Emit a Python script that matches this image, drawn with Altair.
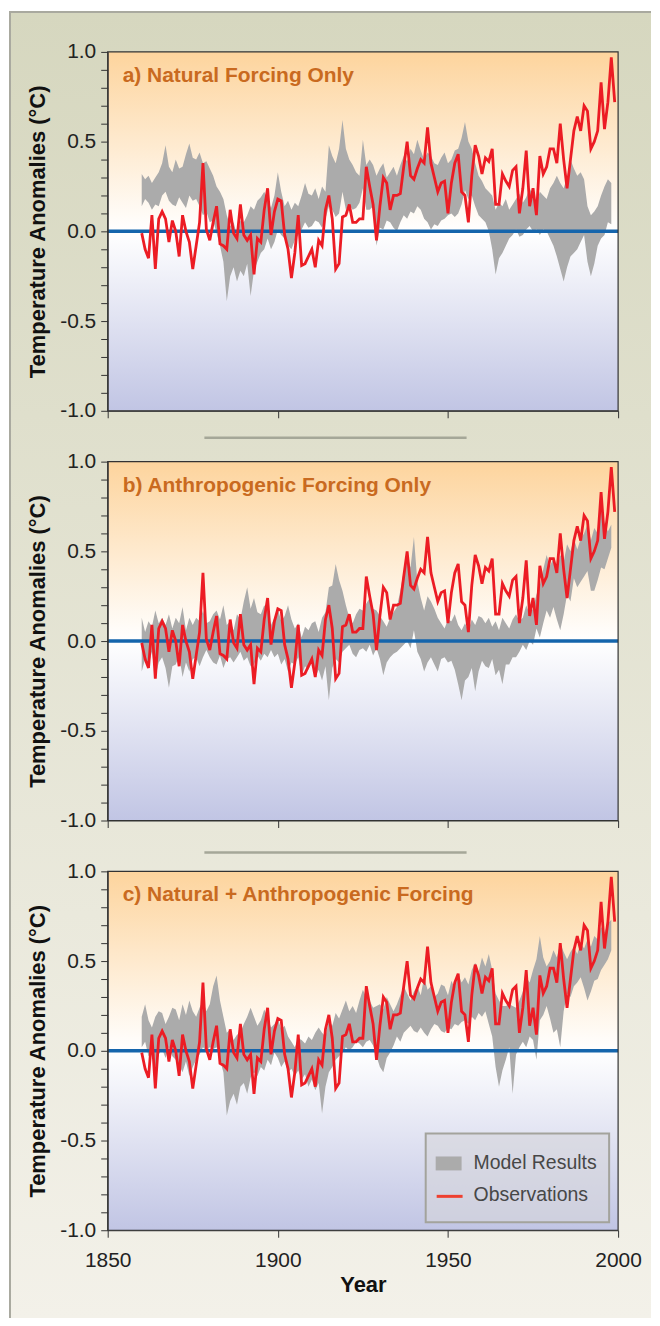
import altair as alt
import pandas as pd

# ---------------- data ----------------
years_obs = list(range(1860, 2000))
years_model = list(range(1860, 1999))

obs = [
    -0.01, -0.10, -0.15, 0.09, -0.21, 0.07, 0.11, 0.07, -0.06, 0.06,
    0.00, -0.14, 0.09, 0.00, -0.06, -0.21, -0.08, 0.05, 0.38, 0.01,
    -0.05, 0.05, 0.14, -0.07, -0.08, -0.10, 0.12, -0.01, -0.04, 0.15,
    -0.02, -0.05, -0.02, -0.24, -0.04, -0.06, 0.12, 0.24, -0.02, 0.11,
    0.18, 0.17, -0.02, -0.10, -0.26, -0.12, 0.09, -0.19, -0.18, -0.14,
    -0.10, -0.20, -0.05, -0.08, 0.12, 0.20, 0.07, -0.21, -0.18, 0.08,
    0.09, 0.15, 0.05, 0.05, 0.07, 0.07, 0.36, 0.25, 0.15, -0.05,
    0.14, 0.30, 0.27, 0.12, 0.20, 0.20, 0.21, 0.36, 0.50, 0.31,
    0.29, 0.35, 0.40, 0.38, 0.58, 0.38, 0.30, 0.22, 0.27, 0.28,
    0.10, 0.27, 0.38, 0.43, 0.22, 0.20, 0.05, 0.31, 0.48, 0.42,
    0.32, 0.41, 0.39, 0.46, 0.15, 0.15, 0.32, 0.28, 0.25, 0.34,
    0.36, 0.10, 0.24, 0.45, 0.14, 0.24, 0.09, 0.42, 0.32, 0.36,
    0.46, 0.46, 0.38, 0.60, 0.40, 0.24, 0.40, 0.56, 0.64, 0.56,
    0.70, 0.67, 0.46, 0.50, 0.56, 0.83, 0.57, 0.72, 0.97, 0.72,
]

nat_upper = [
    0.32, 0.29, 0.31, 0.27, 0.30, 0.33, 0.38, 0.48, 0.36, 0.33,
    0.40, 0.35, 0.36, 0.43, 0.49, 0.41, 0.40, 0.44, 0.38, 0.39,
    0.35, 0.31, 0.25, 0.22, 0.18, 0.09, 0.03, 0.05, -0.02, 0.06,
    0.05, 0.09, 0.14, 0.12, 0.17, 0.19, 0.22, 0.18, 0.13, 0.20,
    0.33, 0.22, 0.14, 0.17, 0.12, 0.16, 0.14, 0.20, 0.27, 0.21,
    0.20, 0.24, 0.18, 0.25, 0.22, 0.48, 0.42, 0.38, 0.46, 0.62,
    0.46, 0.40, 0.37, 0.33, 0.31, 0.51, 0.37, 0.40, 0.37, 0.31,
    0.35, 0.38, 0.30, 0.33, 0.36, 0.31, 0.37, 0.42, 0.39, 0.46,
    0.43, 0.51, 0.45, 0.40, 0.44, 0.42, 0.38, 0.37, 0.41, 0.44,
    0.38, 0.40, 0.45, 0.46, 0.52, 0.61, 0.50, 0.46, 0.38, 0.31,
    0.28, 0.24, 0.22, 0.20, 0.12, 0.16, 0.14, 0.18, 0.12, 0.15,
    0.18, 0.21, 0.16, 0.19, 0.24, 0.20, 0.16, 0.22, 0.20, 0.18,
    0.24, 0.27, 0.31, 0.27, 0.24, 0.30, 0.40, 0.35, 0.31, 0.33,
    0.29, 0.14, 0.09, 0.11, 0.14, 0.20, 0.25, 0.29, 0.27,
]
nat_lower = [
    0.14, 0.18, 0.16, 0.12, 0.15, 0.14, 0.20, 0.22, 0.17, 0.15,
    0.14, 0.19, 0.16, 0.13, 0.20, 0.17, 0.18, 0.14, 0.09, 0.11,
    0.05, 0.06, -0.01, -0.08, -0.17, -0.39, -0.25, -0.20, -0.28, -0.22,
    -0.25, -0.18, -0.36, -0.22, -0.17, -0.12, -0.10, -0.04, -0.10, -0.06,
    0.01, -0.02, -0.04, -0.08, -0.10, -0.05, -0.02, 0.01, 0.05, 0.02,
    0.03, 0.06, 0.05, 0.02, 0.07, 0.14, 0.12, 0.08, 0.10, 0.22,
    0.12, 0.15, 0.12, 0.13, 0.16, 0.24, 0.12, 0.12, 0.14, -0.08,
    0.02, 0.01, 0.06, 0.05, 0.02, 0.00, 0.05, 0.09, 0.07, 0.11,
    0.10, 0.14, 0.12, 0.07, 0.05, 0.01, 0.04, 0.03, 0.06, 0.07,
    0.09, 0.10, 0.08, 0.10, 0.15, 0.23, 0.18, 0.20, 0.14, 0.09,
    0.07, 0.05, 0.00, -0.10, -0.24, -0.15, -0.12, -0.08, -0.04, -0.02,
    0.01, -0.03, -0.02, 0.01, 0.03, 0.00, 0.01, -0.02, 0.01, 0.00,
    -0.04, -0.08, -0.14, -0.21, -0.28, -0.20, -0.14, -0.12, -0.10, -0.06,
    -0.02, -0.17, -0.25, -0.18, -0.08, -0.04, -0.02, 0.05, 0.04,
]

ant_upper = [
    0.13, 0.05, 0.11, 0.08, 0.17, 0.10, 0.13, 0.09, 0.15, 0.07,
    0.13, 0.10, 0.19, 0.06, 0.13, 0.09, 0.13, 0.11, 0.17, 0.10,
    0.11, 0.15, 0.17, 0.12, 0.20, 0.09, 0.11, 0.06, 0.15, 0.12,
    0.22, 0.30, 0.18, 0.24, 0.16, 0.15, 0.20, 0.17, 0.09, 0.13,
    0.18, 0.11, 0.14, 0.20, 0.12, 0.07, 0.10, 0.02, 0.08, 0.06,
    0.10, 0.11, 0.05, 0.13, 0.16, 0.30, 0.31, 0.43, 0.34, 0.28,
    0.20, 0.13, 0.10, 0.15, 0.18, 0.17, 0.21, 0.24, 0.18, 0.17,
    0.14, 0.11, 0.08, 0.13, 0.16, 0.19, 0.28, 0.39, 0.48, 0.41,
    0.58, 0.33, 0.24, 0.17, 0.25, 0.22, 0.18, 0.13, 0.10, 0.07,
    0.12, 0.11, 0.15, 0.09, 0.06, 0.10, 0.06, 0.12, 0.09, 0.14,
    0.13, 0.10, 0.13, 0.08, 0.11, 0.06, 0.13, 0.10, 0.07, 0.12,
    0.15, 0.11, 0.13, 0.20, 0.15, 0.18, 0.26, 0.31, 0.40, 0.48,
    0.42, 0.46, 0.39, 0.48, 0.44, 0.54, 0.50, 0.57, 0.51, 0.57,
    0.60, 0.65, 0.56, 0.63, 0.60, 0.76, 0.66, 0.61, 0.65,
]
ant_lower = [
    -0.17, -0.10, -0.13, -0.06, -0.20, -0.12, -0.09, -0.15, -0.26, -0.14,
    -0.13, -0.08, -0.20, -0.12, -0.17, -0.10, -0.09, -0.14, -0.09, -0.05,
    -0.09, -0.12, -0.13, -0.08, -0.15, -0.10, -0.09, -0.12, -0.09, -0.06,
    -0.11, -0.09, -0.14, -0.13, -0.08, -0.11, -0.07, -0.09, -0.05, -0.09,
    -0.07, -0.13, -0.10, -0.17, -0.12, -0.13, -0.09, -0.19, -0.14, -0.16,
    -0.12, -0.20, -0.16, -0.22, -0.14, -0.33, -0.15, -0.10, -0.12, -0.06,
    -0.04, -0.02, -0.07, -0.09, -0.05, -0.04, -0.06, -0.02, -0.08, -0.04,
    -0.10, -0.19, -0.12, -0.09, -0.07, -0.06, -0.04, -0.02, 0.00, -0.04,
    0.06, -0.06, -0.10, -0.17, -0.12, -0.09, -0.13, -0.17, -0.10, -0.09,
    -0.12, -0.11, -0.16, -0.24, -0.33, -0.22, -0.20, -0.15, -0.28, -0.17,
    -0.11, -0.14, -0.15, -0.10, -0.19, -0.16, -0.24, -0.13, -0.13, -0.09,
    -0.09, -0.06, -0.02, -0.05, 0.00, -0.02, 0.07, 0.02, 0.10, 0.17,
    0.13, 0.19, 0.12, 0.06, 0.15, 0.26, 0.22, 0.35, 0.30, 0.33,
    0.36, 0.39, 0.28, 0.28, 0.34, 0.41, 0.40, 0.46, 0.52,
]

all_upper = [
    0.19, 0.26, 0.17, 0.13, 0.19, 0.22, 0.21, 0.15, 0.19, 0.24,
    0.23, 0.17, 0.26, 0.20, 0.28, 0.22, 0.19, 0.24, 0.28, 0.22,
    0.26, 0.36, 0.42, 0.28, 0.19, 0.10, 0.12, 0.06, 0.09, 0.10,
    0.15, 0.19, 0.24, 0.19, 0.14, 0.17, 0.23, 0.19, 0.13, 0.15,
    0.18, 0.12, 0.14, 0.08, 0.05, 0.02, 0.07, 0.06, 0.04, 0.08,
    0.06, 0.10, 0.13, 0.10, 0.08, 0.17, 0.14, 0.21, 0.18, 0.23,
    0.28, 0.22, 0.25, 0.21, 0.28, 0.34, 0.30, 0.28, 0.24, 0.25,
    0.26, 0.23, 0.30, 0.26, 0.22, 0.26, 0.31, 0.36, 0.32, 0.28,
    0.33, 0.36, 0.31, 0.41, 0.34, 0.36, 0.30, 0.32, 0.37, 0.36,
    0.31, 0.39, 0.35, 0.43, 0.38, 0.41, 0.37, 0.45, 0.49, 0.44,
    0.52, 0.47, 0.54, 0.45, 0.32, 0.28, 0.25, 0.25, 0.26, 0.25,
    0.24, 0.28, 0.33, 0.41, 0.38, 0.45, 0.51, 0.64, 0.52, 0.47,
    0.50, 0.56, 0.52, 0.60, 0.55, 0.51, 0.55, 0.58, 0.54, 0.60,
    0.57, 0.62, 0.58, 0.64, 0.62, 0.69, 0.66, 0.71, 0.73,
]
all_lower = [
    0.02, 0.05, -0.03, -0.01, -0.09, -0.02, 0.01, -0.04, 0.02, -0.03,
    -0.05, -0.08, -0.12, -0.06, -0.14, -0.09, -0.05, -0.02, 0.02, 0.00,
    0.02, 0.01, 0.02, -0.05, -0.12, -0.36, -0.28, -0.24, -0.30, -0.20,
    -0.18, -0.24, -0.15, -0.12, -0.14, -0.09, -0.11, -0.05, -0.08, -0.01,
    -0.04, -0.09, -0.06, -0.12, -0.10, -0.14, -0.11, -0.16, -0.13, -0.20,
    -0.16, -0.22, -0.18, -0.35, -0.20, -0.12, -0.09, -0.05, -0.03, -0.01,
    0.02, 0.00, 0.02, 0.05, 0.04, 0.02, 0.05, 0.06, 0.03, -0.03,
    -0.09, -0.12, -0.04, -0.01, 0.03, 0.08, 0.05, 0.10, 0.12, 0.14,
    0.11, 0.10, 0.13, 0.10, 0.08, 0.12, 0.15, 0.14, 0.11, 0.10,
    0.13, 0.12, 0.15, 0.14, 0.16, 0.17, 0.15, 0.19, 0.17, 0.21,
    0.19, 0.22, 0.15, 0.08, -0.09, -0.20, -0.11, -0.05, 0.02, -0.24,
    -0.02, 0.02, 0.05, 0.02, 0.08, 0.06, -0.05, 0.17, 0.20, 0.25,
    0.18, 0.10, 0.12, 0.02, 0.22, 0.32, 0.30, 0.36, 0.38, 0.41,
    0.35, 0.28, 0.33, 0.39, 0.40, 0.45, 0.48, 0.51, 0.56,
]

panel_titles = [
    "a) Natural Forcing Only",
    "b) Anthropogenic Forcing Only",
    "c) Natural + Anthropogenic Forcing",
]
legend_labels = ["Model Results", "Observations"]
x_ticks = [1850, 1900, 1950, 2000]
y_ticks = [-1.0, -0.9, -0.8, -0.7, -0.6, -0.5, -0.4, -0.3, -0.2, -0.1, 0.0,
           0.1, 0.2, 0.3, 0.4, 0.5, 0.6, 0.7, 0.8, 0.9, 1.0]

# ---------------- style ----------------
FONT = "Liberation Sans"
W, H = 512, 360
RED = "#EC1C24"
BLUE = "#1565AC"
GRAY = "#ABABAB"
TITLE_C = "#C96A20"

one = pd.DataFrame({"zero": [0.0]})
obs_df = pd.DataFrame({"year": years_obs, "temp": obs})

x_scale = alt.Scale(domain=[1850, 2000], nice=False, zero=False)
y_scale = alt.Scale(domain=[-1, 1], nice=False, zero=False)

y_axis = alt.Axis(
    values=y_ticks,
    title="Temperature Anomalies (°C)",
    labelExpr="abs(datum.value*2 - round(datum.value*2)) < 0.01 ? "
              "(datum.value < -0.01 ? '-' + format(abs(datum.value), '.1f') : format(abs(datum.value), '.1f')) : ''",
    labelPadding=5,
    titlePadding=10,
    zindex=1,
)


def x_axis(show):
    if show:
        return alt.Axis(values=x_ticks, format="d", title="Year", zindex=1,
                        labelPadding=12, titlePadding=4, labelFlush=False)
    return alt.Axis(values=x_ticks, labels=False, title="", zindex=1)


def xe(show):
    return alt.X("year:Q", scale=x_scale, axis=x_axis(show))


def ye(field):
    return alt.Y(f"{field}:Q", scale=y_scale, axis=y_axis)


plot_bg = alt.LinearGradient(
    gradient="linear", x1=0, x2=0, y1=0, y2=1,
    stops=[alt.GradientStop(color="#FDD49D", offset=0),
           alt.GradientStop(color="#FFFFFF", offset=0.5),
           alt.GradientStop(color="#C1C5E4", offset=1)],
)
page_bg = alt.LinearGradient(
    gradient="linear", x1=0, x2=0, y1=0, y2=1,
    stops=[alt.GradientStop(color="#D6D7BF", offset=0),
           alt.GradientStop(color="#F3F1E9", offset=1)],
)

BG_L, BG_T = -99, -41


def panel(idx, upper, lower, show_x):
    band_df = pd.DataFrame({"year": years_model, "lower": lower, "upper": upper})
    layers = []
    if idx == 0:
        layers.append(alt.Chart(one).mark_rect(color=page_bg).encode(
            x=alt.value(BG_L), x2=alt.value(545), y=alt.value(BG_T), y2=alt.value(1270)))
        layers.append(alt.Chart(one).mark_rect(color="#A9A99F").encode(
            x=alt.value(BG_L), x2=alt.value(545), y=alt.value(BG_T), y2=alt.value(BG_T + 2)))
        layers.append(alt.Chart(one).mark_rect(color="#A9A99F").encode(
            x=alt.value(BG_L), x2=alt.value(BG_L + 2), y=alt.value(BG_T), y2=alt.value(1270)))
    layers.append(alt.Chart(one).mark_rect(color=plot_bg).encode(
        x=alt.value(0), x2=alt.value(W), y=alt.value(0), y2=alt.value(H)))
    layers.append(alt.Chart(band_df).mark_area(color=GRAY, opacity=1).encode(
        x=xe(show_x), y=ye("lower"), y2="upper:Q"))
    layers.append(alt.Chart(one).mark_rule(color=BLUE, strokeWidth=3.5).encode(
        y=ye("zero"), x=alt.value(0), x2=alt.value(W)))
    layers.append(alt.Chart(obs_df).mark_line(color=RED, strokeWidth=2.8).encode(
        x=xe(show_x), y=ye("temp")))
    layers.append(alt.Chart(one).mark_rect(fill="transparent", stroke="#333333", strokeWidth=1.2).encode(
        x=alt.value(0), x2=alt.value(W), y=alt.value(0), y2=alt.value(H)))
    layers.append(alt.Chart(one).mark_text(
        align="left", baseline="middle", font=FONT, fontSize=21, fontWeight="bold",
        color=TITLE_C).encode(x=alt.value(15), y=alt.value(24), text=alt.value(panel_titles[idx])))
    if idx < 2:
        sep_y = 387 if idx == 0 else 392
        layers.append(alt.Chart(one).mark_rule(color="#A5A798", strokeWidth=2.5).encode(
            x=alt.value(97), x2=alt.value(360), y=alt.value(sep_y)))
    if idx == 2:
        layers.append(alt.Chart(one).mark_rect(fill="#D6D6DA", fillOpacity=0.6,
                                               stroke="#A3A39C", strokeWidth=2).encode(
            x=alt.value(319), x2=alt.value(503), y=alt.value(263), y2=alt.value(352)))
        layers.append(alt.Chart(one).mark_rect(color=GRAY).encode(
            x=alt.value(329), x2=alt.value(355), y=alt.value(286), y2=alt.value(300)))
        layers.append(alt.Chart(one).mark_rule(color="#EE4030", strokeWidth=3).encode(
            x=alt.value(330), x2=alt.value(356), y=alt.value(326)))
        for lab, yy in zip(legend_labels, [293, 325]):
            layers.append(alt.Chart(one).mark_text(
                align="left", baseline="middle", font=FONT, fontSize=19.5,
                color="#474747").encode(x=alt.value(367), y=alt.value(yy), text=alt.value(lab)))
    return alt.layer(*layers).properties(width=W, height=H)


chart = alt.vconcat(
    panel(0, nat_upper, nat_lower, False),
    panel(1, ant_upper, ant_lower, False),
    panel(2, all_upper, all_lower, True),
    spacing=51,
    bounds="flush",
).properties(
    padding={"left": 0, "top": 0, "right": 0, "bottom": 0},
).configure_view(
    stroke="transparent"
).configure_axis(
    grid=False,
    domainColor="#333333",
    tickColor="#333333",
    tickSize=7,
    labelFont=FONT,
    labelFontSize=21,
    labelColor="#222222",
    titleFont=FONT,
    titleFontSize=22,
    titleFontWeight="bold",
    titleColor="#111111",
)

chart.save("out.html", embed_options={"renderer": "svg", "actions": False})
